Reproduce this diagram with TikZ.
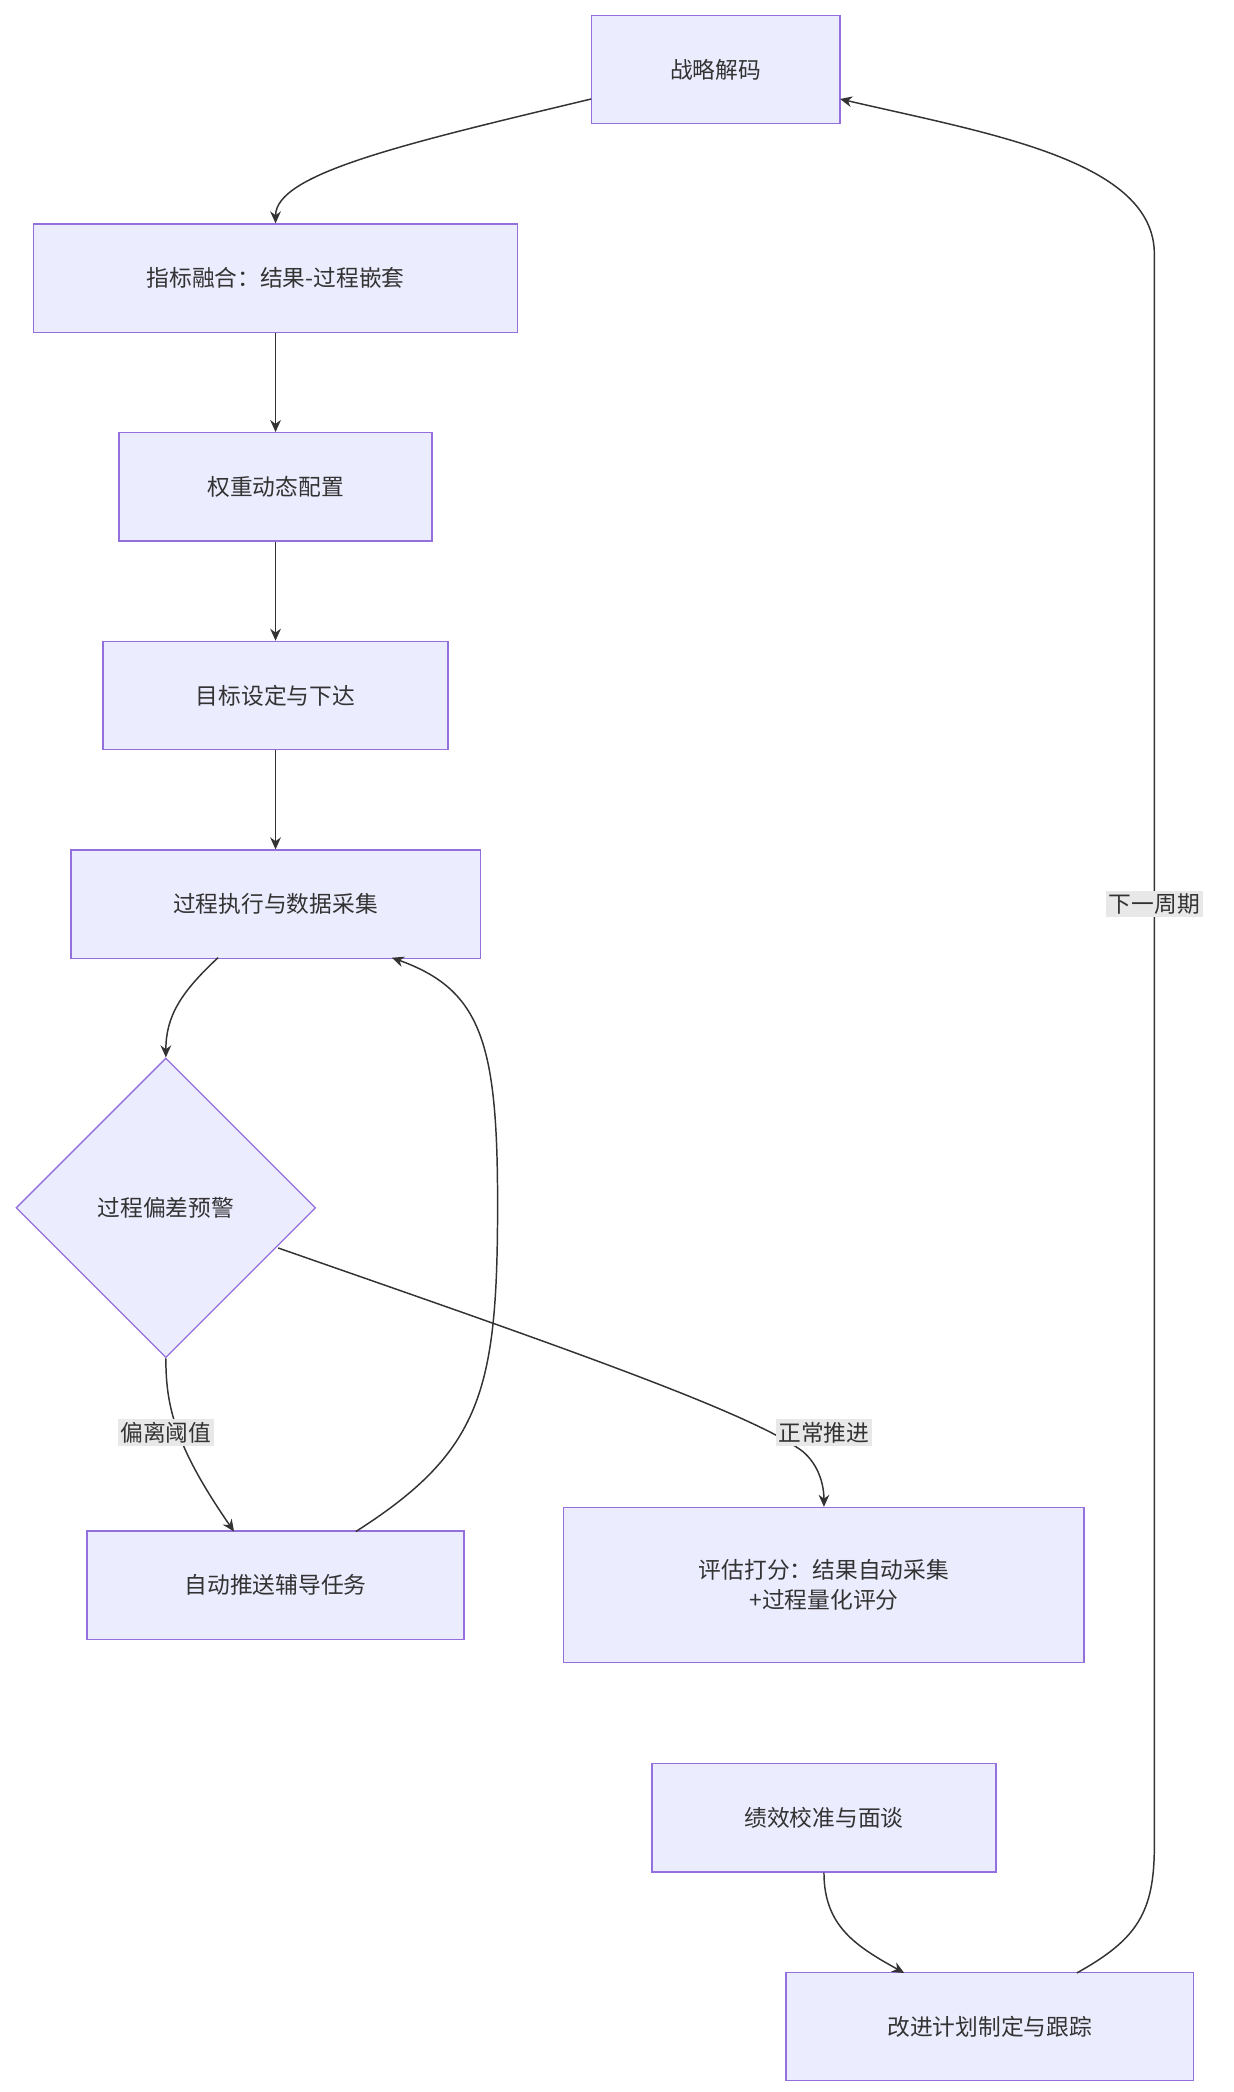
\documentclass[tikz,border=0pt]{standalone}
\usepackage{fontspec}
\setmainfont{Noto Sans CJK SC}
\usetikzlibrary{shapes.geometric,arrows.meta}
\definecolor{nf}{HTML}{ECECFF}
\definecolor{ns}{HTML}{9370DB}
\definecolor{ln}{HTML}{333333}
\definecolor{lb}{HTML}{E8E8E8}
\begin{document}
\begin{tikzpicture}[x=1pt,y=-1pt,
 box/.style={draw=ns,fill=nf,line width=1pt,minimum height=81pt,inner sep=0pt,font=\fontsize{17}{22}\selectfont,text=ln,align=center},
 dia/.style={draw=ns,fill=nf,line width=1pt,diamond,minimum width=224pt,minimum height=224pt,inner sep=0pt,font=\fontsize{17}{22}\selectfont,text=ln},
 lab/.style={fill=lb,inner sep=2pt,font=\fontsize{17}{22}\selectfont,text=ln},
 ar/.style={draw=ln,line width=1.1pt,-{Stealth[length=9pt,width=8pt]}}]
\useasboundingbox (0,0) rectangle (922,1564);
\node[box,minimum width=186pt] (a) at (535,52) {战略解码};
\node[box,minimum width=362pt] (b) at (206,208) {指标融合：结果-过程嵌套};
\node[box,minimum width=234pt] (c) at (206,364) {权重动态配置};
\node[box,minimum width=258pt] (d) at (206,520) {目标设定与下达};
\node[box,minimum width=306pt] (e) at (206,676) {过程执行与数据采集};
\node[dia] (f) at (124,903) {过程偏差预警};
\node[box,minimum width=282pt] (g) at (206,1185) {自动推送辅导任务};
\node[box,minimum width=389pt,minimum height=116pt] (h) at (616,1185) {评估打分：结果自动采集\\+过程量化评分};
\node[box,minimum width=257pt] (i) at (616,1359) {绩效校准与面谈};
\node[box,minimum width=305pt] (j) at (740,1515) {改进计划制定与跟踪};
\coordinate (a1) at (442,74);
\coordinate (a2) at (628,74);
\coordinate (e1) at (163,716);
\coordinate (e2) at (293,716);
\coordinate (f1) at (208,933);
\coordinate (g1) at (175,1145);
\coordinate (g2) at (266,1145);
\coordinate (i1) at (676,1475);
\coordinate (j1) at (805,1475);
\draw[ar] (a1) .. controls (300,108) and (206,130) .. (b.north);
\draw[ar] (b) -- (c);
\draw[ar] (c) -- (d);
\draw[ar] (d) -- (e);
\draw[ar] (e1) .. controls (135,742) and (124,760) .. (f.north);
\draw[ar] (f.south) .. controls (124,1050) and (130,1080) .. (g1);
\node[lab] (l1) at (124,1071) {偏离阈值};
\draw[ar] (f1) .. controls (400,1000) and (560,1055) .. (600,1085) .. controls (612,1095) and (616,1110) .. (h.north);
\node[lab] (l2) at (616,1071) {正常推进};
\draw[ar] (g2) .. controls (360,1085) and (372,1040) .. (372,900) .. controls (372,780) and (360,740) .. (e2);
\draw[ar] (i.south) .. controls (616,1440) and (640,1455) .. (i1);
\draw[ar] (j1) .. controls (850,1450) and (863,1430) .. (863,1380) -- (863,190) .. controls (863,120) and (740,100) .. (a2);
\node[lab] (l3) at (863,676) {下一周期};
\end{tikzpicture}
\end{document}
